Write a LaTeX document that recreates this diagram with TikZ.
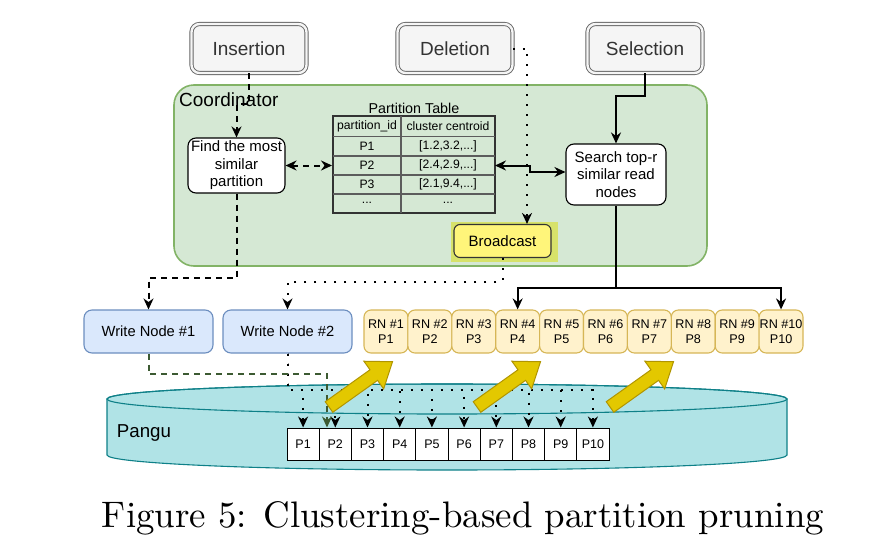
\documentclass[tikz,border=0pt]{standalone}
\usepackage{fontspec}
\setsansfont{Liberation Sans}
\newfontfamily\capfont{lmroman10-regular}[Extension=.otf]
\usetikzlibrary{arrows.meta,calc}
\definecolor{grayfill}{HTML}{F5F5F5}
\definecolor{grayline}{HTML}{666666}
\definecolor{txtgray}{HTML}{333333}
\definecolor{coordfill}{HTML}{D5E8D4}
\definecolor{coordline}{HTML}{82B366}
\definecolor{wnfill}{HTML}{DAE8FC}
\definecolor{wnline}{HTML}{6C8EBF}
\definecolor{rnfill}{HTML}{FFF2CC}
\definecolor{rnline}{HTML}{D6B656}
\definecolor{pangufill}{HTML}{B0E3E6}
\definecolor{panguline}{HTML}{0E8088}
\definecolor{bcfill}{HTML}{FFF57A}
\definecolor{bchl}{HTML}{D7E26A}
\definecolor{arrfill}{HTML}{E3C800}
\definecolor{arrline}{HTML}{B09500}
\definecolor{greendash}{HTML}{3C5A32}
\definecolor{tblline}{HTML}{333333}
\newcommand{\fsz}[2]{\fontsize{#1}{#2}\selectfont}
\begin{document}
\begin{tikzpicture}[x=1pt,y=-1pt,
  opbox/.style={draw=grayline, fill=grayfill, double=grayfill, double distance=2.4pt, line width=0.9pt, rounded corners=8pt, minimum width=115pt, minimum height=49pt, inner sep=0pt, text=txtgray, font=\sffamily\fsz{19}{22}},
  whitebox/.style={draw=black, fill=white, line width=1.1pt, rounded corners=8pt, inner sep=0pt, align=center, font=\sffamily\fsz{15}{17.5}},
  wnbox/.style={draw=wnline, fill=wnfill, line width=1.1pt, rounded corners=8pt, minimum width=129pt, minimum height=43pt, inner sep=0pt, font=\sffamily\fsz{14.7}{17}},
  rnbox/.style={draw=rnline, fill=rnfill, line width=1.1pt, rounded corners=7pt, minimum width=43.9pt, minimum height=43pt, inner sep=0pt, align=center, font=\sffamily\fsz{12.6}{15.3}},
  pbox/.style={draw=black, fill=white, line width=1pt, minimum width=32.2pt, minimum height=32pt, inner sep=0pt, font=\sffamily\fsz{12.5}{14}},
  cell/.style={font=\sffamily\fsz{12.2}{14}, inner sep=0pt},
  solidline/.style={draw=black, line width=2pt},
  dashline/.style={draw=black, line width=2pt, dash pattern=on 6pt off 5pt},
  dotline/.style={draw=black, line width=2pt, dash pattern=on 2pt off 8pt},
  gdashline/.style={draw=greendash, line width=2pt, dash pattern=on 6pt off 5pt},
  arr/.style={-{Stealth[length=11pt,width=10pt]}},
  darr/.style={{Stealth[length=11pt,width=10pt]}-{Stealth[length=11pt,width=10pt]}},
  blockarrow/.style={fill=arrfill, draw=arrline, line width=1pt, line join=miter}
]
\useasboundingbox (0,0) rectangle (869,549);

% Coordinator container
\node[draw=coordline, fill=coordfill, line width=1.6pt, rounded corners=20pt, minimum width=533pt, minimum height=181pt, inner sep=0pt] (coord) at (440.5,175.5) {};
\node[anchor=base west, font=\sffamily\fsz{19}{22}, inner sep=0pt] (coordlbl) at (179,106) {Coordinator};

% Partition table
\node[font=\sffamily\fsz{14.3}{16}, inner sep=0pt] (tbltitle) at (414,108) {Partition Table};
\node[draw=tblline, line width=2pt, minimum width=162pt, minimum height=97pt, inner sep=0pt] (tbl) at (414,164.5) {};
\draw[tblline!80, line width=1.2pt] (401,116) -- (401,213);
\foreach \yy in {136.5,156,175,194} {\draw[tblline!80, line width=1.2pt] (333,\yy) -- (495,\yy);}
\node[cell] (h1) at (367,126.5) {partition\_id};
\node[cell] (h2) at (448,126.5) {cluster centroid};
\node[cell] (r1a) at (367,146) {P1};
\node[cell] (r1b) at (448,146) {[1.2,3.2,...]};
\node[cell] (r2a) at (367,165.5) {P2};
\node[cell] (r2b) at (448,165.5) {[2.4,2.9,...]};
\node[cell] (r3a) at (367,184.5) {P3};
\node[cell] (r3b) at (448,184.5) {[2.1,9.4,...]};
\node[cell] (r4a) at (367,203) {...};
\node[cell] (r4b) at (448,203) {...};
\coordinate (r2e) at (495,165.5);

% inner boxes
\node[whitebox, minimum width=97pt, minimum height=55pt] (find) at (236.5,165.5) {Find the most\\similar\\partition};
\node[whitebox, minimum width=100pt, minimum height=61pt] (search) at (616,174.5) {Search top-r\\similar read\\nodes};
\fill[bchl] (451,222) rectangle (558,262);
\node[draw=black!80, fill=bcfill, line width=1.1pt, rounded corners=6pt, minimum width=97pt, minimum height=33pt, inner sep=0pt, font=\sffamily\fsz{15}{17}] (bc) at (502.5,241) {Broadcast};

% operation boxes
\node[opbox] (ins) at (249,48.5) {Insertion};
\node[opbox] (del) at (455,48.5) {Deletion};
\node[opbox] (sel) at (645,48.5) {Selection};

% write nodes and read nodes
\node[wnbox] (wn1) at (148.5,331.5) {Write Node \#1};
\node[wnbox] (wn2) at (287.5,331.5) {Write Node \#2};
\foreach \i in {1,...,10} {\node[rnbox] (rn\i) at ({364+43.9*(\i-0.5)},331.5) {RN \#\i\\P\i};}

% Pangu cylinder
\path[fill=pangufill, draw=panguline, line width=1.1pt] (107,399) -- (107,455) arc[start angle=180, end angle=360, x radius=340pt, y radius=15pt] -- (787,399) arc[start angle=0, end angle=180, x radius=340pt, y radius=15pt] -- cycle;
\draw[panguline, line width=1.1pt] (447,399) ellipse [x radius=340pt, y radius=15pt];
\node[font=\sffamily\fsz{18.7}{21}, inner sep=0pt] (pangu) at (144,433) {Pangu};
\foreach \i in {1,...,10} {\node[pbox] (p\i) at ({287+32.2*(\i-0.5)},444) {P\i};}

% connectors
\coordinate (kIns) at (236.5,104);
\draw[dashline, arr] (ins.south) |- (kIns) -- (find.north);
\draw[dashline, darr] (find.east) -- (find.east -| tbl.west);
\coordinate (kT1) at (530,165.5);
\coordinate (kT2) at (530,172);
\coordinate (kT3) at (search.west |- kT2);
\draw[solidline, darr] (r2e) -- (kT1) -- (kT2) -- (kT3);
\coordinate (kSel) at (616,96);
\draw[solidline, arr] (sel.south) |- (kSel) -- (search.north);
\coordinate (kRN) at (616,288);
\draw[solidline, arr] (search.south) -- (kRN) -| (rn4.north);
\draw[solidline, arr] (kRN) -| (rn10.north);
\coordinate (kDel) at (527,48.5);
\draw[dotline, arr] (del.east) -- (kDel) -- (kDel |- bc.north);
\coordinate (kBc) at (502.5,282);
\draw[dotline, arr] (bc.south) -- (kBc) -| (wn2.north);
\coordinate (kF) at (236.5,278);
\draw[dashline, arr] (find.south) -- (kF) -| (wn1.north);
\coordinate (kW) at (287.5,390);
\foreach \i in {1,...,10} {\draw[dotline, arr] (wn2.south) -- (kW) -| (p\i.north);}
\coordinate (kG1) at (148.5,374);
\coordinate (kG2) at (327,374);
\draw[gdashline, -{Stealth[length=11pt,width=10pt]}] (wn1.south) -- (kG1) -- (kG2) -- (kG2 |- p2.north);

% block arrows
\foreach \tx in {329,477,610} {
  \begin{scope}[shift={(\tx,407)}, rotate=35.5]
    \path[blockarrow] (0,6.5) -- (55,6.5) -- (55,17) -- (78,0) -- (55,-17) -- (55,-6.5) -- (0,-6.5) -- cycle;
  \end{scope}
}

% caption
\node[anchor=base, inner sep=0pt, font=\capfont\fsz{36.9}{41}] (cap) at (463,527) {Figure 5: Clustering-based partition pruning};
\end{tikzpicture}
\end{document}
